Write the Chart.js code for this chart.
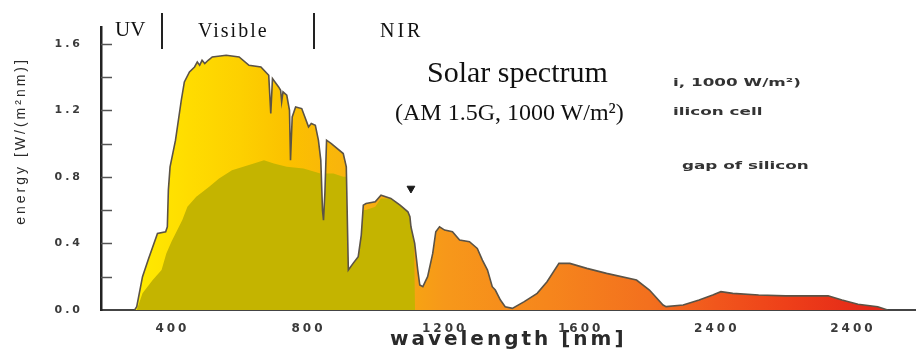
<!DOCTYPE html>
<html>
<head>
<meta charset="utf-8">
<script src="https://cdn.jsdelivr.net/npm/chart.js@4.4.1/dist/chart.umd.min.js"></script>
<style>
  body { margin: 0; background: #fff; }
  #wrap { position: relative; width: 921px; height: 352px; }
  .lbl { position: absolute; white-space: nowrap; line-height: 1; }
  .serif { font-family: "Liberation Serif", "DejaVu Serif", serif; color: #111; }
  .note { font-family: "DejaVu Sans", sans-serif; font-weight: bold; font-size: 10.5px; color: #333;
          transform: scaleX(1.6); transform-origin: 0 0; }
</style>
</head>
<body>
<div id="wrap">
  <canvas id="spectrum"></canvas>
  <div class="lbl serif" style="left:115px; top:19px; font-size:21px;">UV</div>
  <div class="lbl serif" style="left:198px; top:20px; font-size:20px; letter-spacing:2px;">Visible</div>
  <div class="lbl serif" style="left:380px; top:20px; font-size:20px; letter-spacing:3px;">NIR</div>
  <div class="lbl serif" style="left:427px; top:57px; font-size:30px;">Solar spectrum</div>
  <div class="lbl serif" style="left:395px; top:100px; font-size:24px;">(AM 1.5G, 1000 W/m²)</div>
  <div class="lbl note" style="left:673px; top:77px;">i, 1000 W/m²)</div>
  <div class="lbl note" style="left:673px; top:106px;">ilicon cell</div>
  <div class="lbl note" style="left:682px; top:160px;">gap of silicon</div>
</div>
<script>
// AM 1.5G spectrum outline
var am15Wavelength = [289, 295, 312, 330, 356, 380, 385, 388, 393, 409, 426, 435, 450, 465, 473, 480, 487, 495, 505, 517,
    558, 596, 625, 660, 683, 689, 694, 712, 718, 721, 725, 736, 744, 747, 752, 762, 780, 800, 808, 820,
    829, 836, 841, 844, 848, 853, 867, 902, 911, 917, 931, 946, 955, 961, 969, 996, 1013, 1042, 1069, 1092,
    1098, 1101, 1112, 1121, 1127, 1136, 1150, 1165, 1174, 1185, 1200, 1223, 1244, 1273, 1296, 1311, 1326, 1340, 1349, 1364,
    1378, 1399, 1434, 1472, 1501, 1536, 1568, 1618, 1676, 1764, 1802, 1842, 1851, 1901, 1948, 1988, 2012, 2047, 2123, 2202,
    2280, 2327, 2368, 2415, 2473, 2502];
var am15Energy = [0.00, 0.02, 0.20, 0.31, 0.46, 0.47, 0.50, 0.72, 0.86, 1.02, 1.26, 1.37, 1.43, 1.46, 1.49, 1.47, 1.50, 1.48, 1.50, 1.52,
    1.53, 1.52, 1.47, 1.46, 1.41, 1.18, 1.39, 1.34, 1.32, 1.25, 1.31, 1.29, 1.20, 0.90, 1.16, 1.22, 1.21, 1.10, 1.12, 1.11,
    1.02, 0.90, 0.60, 0.54, 0.70, 1.02, 1.00, 0.94, 0.86, 0.24, 0.28, 0.32, 0.45, 0.63, 0.64, 0.65, 0.69, 0.67, 0.63, 0.59,
    0.56, 0.50, 0.40, 0.24, 0.15, 0.14, 0.20, 0.34, 0.47, 0.50, 0.48, 0.47, 0.42, 0.41, 0.37, 0.30, 0.24, 0.14, 0.12, 0.06,
    0.02, 0.01, 0.05, 0.10, 0.17, 0.28, 0.28, 0.25, 0.22, 0.18, 0.12, 0.03, 0.02, 0.03, 0.06, 0.09, 0.11, 0.10, 0.09, 0.085,
    0.085, 0.085, 0.06, 0.035, 0.02, 0.00];

// part usable by a silicon cell (olive area)
var siWavelength = [295, 312, 342, 368, 382, 397, 429, 444, 470, 508, 537, 575, 639, 669, 698, 736, 785, 835, 841, 844,
    848, 851, 873, 902, 911, 917, 931, 946, 955, 961, 969, 996, 1013, 1042, 1069, 1092, 1098, 1101, 1110, 1113];
var siEnergy = [0.00, 0.10, 0.18, 0.24, 0.34, 0.41, 0.54, 0.62, 0.68, 0.74, 0.79, 0.84, 0.88, 0.90, 0.88, 0.86, 0.85, 0.82, 0.60, 0.54,
    0.70, 0.82, 0.82, 0.80, 0.80, 0.24, 0.28, 0.32, 0.45, 0.60, 0.60, 0.62, 0.67, 0.67, 0.63, 0.59, 0.56, 0.50, 0.42, 0.00];

var bandgapWavelength = [1101];
var bandgapLevel = [0.73];

var xTickValues = [400, 800, 1200, 1600, 2000, 2400];
var xTickLabels = ['400', '800', '1200', '1600', '2400', '2400'];
var yTickValues = [0, 0.2, 0.4, 0.6, 0.8, 1.0, 1.2, 1.4, 1.6];
var yTickLabels = ['0.0', '', '0.4', '', '0.8', '', '1.2', '', '1.6'];
var regionEdges = [368, 815];

var fillStops = [[300, '#ffea00'], [450, '#ffdc00'], [600, '#fdd000'], [750, '#fbc000'], [950, '#f8b010'],
    [1100, '#f7a412'], [1200, '#f7981a'], [1500, '#f6861c'], [1800, '#f3701e'], [2000, '#f1561c'],
    [2200, '#ee4019'], [2450, '#e42818']];

function points(xs, ys) {
    return xs.map(function (v, i) { return {x: v, y: ys[i]}; });
}

function spectrumFill(context) {
    var chart = context.chart;
    var area = chart.chartArea;
    if (!area) return '#f7a412';
    var xs = chart.scales.x;
    var g = chart.ctx.createLinearGradient(area.left, 0, area.right, 0);
    fillStops.forEach(function (s) {
        var f = (xs.getPixelForValue(s[0]) - area.left) / (area.right - area.left);
        g.addColorStop(Math.min(Math.max(f, 0), 1), s[1]);
    });
    return g;
}

var axisDecor = {
    id: 'axisDecor',
    beforeDraw: function (chart) { chart.ctx.letterSpacing = '3px'; },
    beforeDatasetsDraw: function (chart) { chart.ctx.letterSpacing = '0px'; },
    afterDraw: function (chart) {
        var ctx = chart.ctx, ys = chart.scales.y, xs = chart.scales.x, left = chart.chartArea.left;
        ctx.save();
        ctx.strokeStyle = '#555';
        ctx.lineWidth = 1.5;
        ys.ticks.forEach(function (t) {
            if (t.value === 0) return;
            var py = Math.round(ys.getPixelForValue(t.value)) + 0.5;
            ctx.beginPath();
            ctx.moveTo(left, py);
            ctx.lineTo(left + 11, py);
            ctx.stroke();
        });
        ctx.strokeStyle = '#222';
        ctx.lineWidth = 2;
        regionEdges.forEach(function (v) {
            var px = Math.round(xs.getPixelForValue(v));
            ctx.beginPath();
            ctx.moveTo(px, 13);
            ctx.lineTo(px, 49);
            ctx.stroke();
        });
        ctx.restore();
    }
};

var tickFont = {family: 'DejaVu Sans', weight: 'bold'};

new Chart(document.getElementById('spectrum'), {
    type: 'line',
    data: {
        datasets: [
            {
                label: 'silicon cell',
                data: points(siWavelength, siEnergy),
                fill: 'origin',
                backgroundColor: '#c4b400',
                borderColor: 'rgba(0,0,0,0)',
                borderWidth: 0,
                pointRadius: 0
            },
            {
                label: 'AM 1.5G, 1000 W/m²',
                data: points(am15Wavelength, am15Energy),
                fill: 'origin',
                backgroundColor: spectrumFill,
                borderColor: '#5b5346',
                borderWidth: 1.6,
                pointRadius: 0
            },
            {
                label: 'band gap of silicon',
                data: points(bandgapWavelength, bandgapLevel),
                showLine: false,
                fill: false,
                pointStyle: 'triangle',
                rotation: 180,
                pointRadius: 4.5,
                backgroundColor: '#1a1a1a',
                borderColor: '#1a1a1a'
            }
        ]
    },
    options: {
        responsive: true,
        maintainAspectRatio: false,
        animation: false,
        events: [],
        layout: {padding: {top: 27, right: 0, bottom: 0, left: 0}},
        plugins: {
            legend: {display: false},
            tooltip: {enabled: false},
            filler: {drawTime: 'beforeDatasetsDraw'}
        },
        scales: {
            x: {
                type: 'linear',
                min: 190,
                max: 2584,
                afterBuildTicks: function (s) { s.ticks = xTickValues.map(function (v) { return {value: v}; }); },
                afterFit: function (s) { s.height = 42; },
                grid: {display: false},
                border: {color: '#444', width: 2},
                ticks: {
                    padding: 4, color: '#3a3a3a', autoSkip: false, maxRotation: 0,
                    font: Object.assign({size: 12}, tickFont),
                    callback: function (v, i) { return xTickLabels[i]; }
                },
                title: {
                    display: true, text: 'wavelength [nm]', color: '#2a2a2a',
                    font: {family: 'DejaVu Sans', size: 20, weight: 'bold'},
                    padding: {top: 0, bottom: 0}
                }
            },
            y: {
                min: 0,
                max: 1.7,
                afterBuildTicks: function (s) { s.ticks = yTickValues.map(function (v) { return {value: v}; }); },
                afterFit: function (s) { s.width = 101; },
                grid: {display: false},
                border: {color: '#222', width: 2.5},
                ticks: {
                    padding: 10, color: '#3a3a3a', autoSkip: false,
                    font: Object.assign({size: 11}, tickFont),
                    callback: function (v, i) { return yTickLabels[i]; }
                },
                title: {
                    display: true, text: '        energy [W/(m²nm)]', color: '#2a2a2a',
                    font: {family: 'Liberation Sans', size: 14},
                    padding: {top: 13, bottom: 0}
                }
            }
        }
    },
    plugins: [axisDecor]
});
</script>
</body>
</html>
